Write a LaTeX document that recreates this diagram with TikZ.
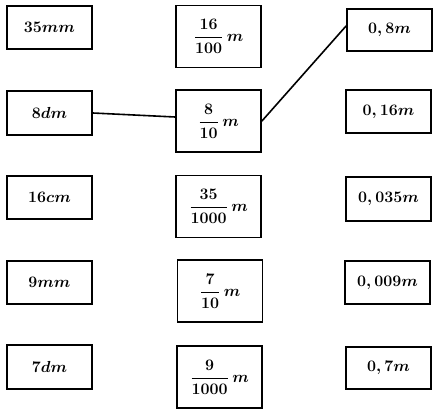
\documentclass[tikz,border=0pt]{standalone}
\usepackage{amsmath}
\usetikzlibrary{calc}
\tikzset{
  box/.style={draw, line width=1.4pt, minimum width=63.75pt, inner sep=0pt, font=\large\boldmath},
  sbox/.style={box, minimum height=32.5pt},
  tbox/.style={box, minimum height=46.5pt},
  link/.style={line width=1.2pt}
}
\begin{document}
\begin{tikzpicture}[x=0.75pt,y=-0.75pt]
\useasboundingbox (0,0) rectangle (436,414);
% left column
\node[sbox] (l1) at (49.5,27.5) {$35mm$};
\node[sbox] (l2) at (49.5,113) {$8dm$};
\node[sbox] (l3) at (49.5,197.5) {$16cm$};
\node[sbox] (l4) at (49.5,282.5) {$9mm$};
\node[sbox] (l5) at (49.5,367) {$7dm$};
% middle column
\node[tbox] (m1) at (218.5,36.5) {$\dfrac{16}{100}\,m$};
\node[tbox] (m2) at (218.5,121) {$\dfrac{8}{10}\,m$};
\node[tbox] (m3) at (218.5,206.5) {$\dfrac{35}{1000}\,m$};
\node[tbox] (m4) at (220,291) {$\dfrac{7}{10}\,m$};
\node[tbox] (m5) at (219.5,377) {$\dfrac{9}{1000}\,m$};
% right column
\node[sbox, minimum height=31.5pt] (r1) at (389.5,30) {$0,8m$};
\node[sbox] (r2) at (388.5,111.5) {$0,16m$};
\node[sbox, minimum height=33pt] (r3) at (388.5,199) {$0,035m$};
\node[sbox] (r4) at (387.5,282.5) {$0,009m$};
\node[sbox, minimum height=31.5pt] (r5) at (388.5,368) {$0,7m$};
% connectors
\draw[link] (l2.east) -- ($(m2.west)+(0,-4)$);
\draw[link] (m2.east) -- ($(r1.west)+(0,-4)$);
\end{tikzpicture}
\end{document}
